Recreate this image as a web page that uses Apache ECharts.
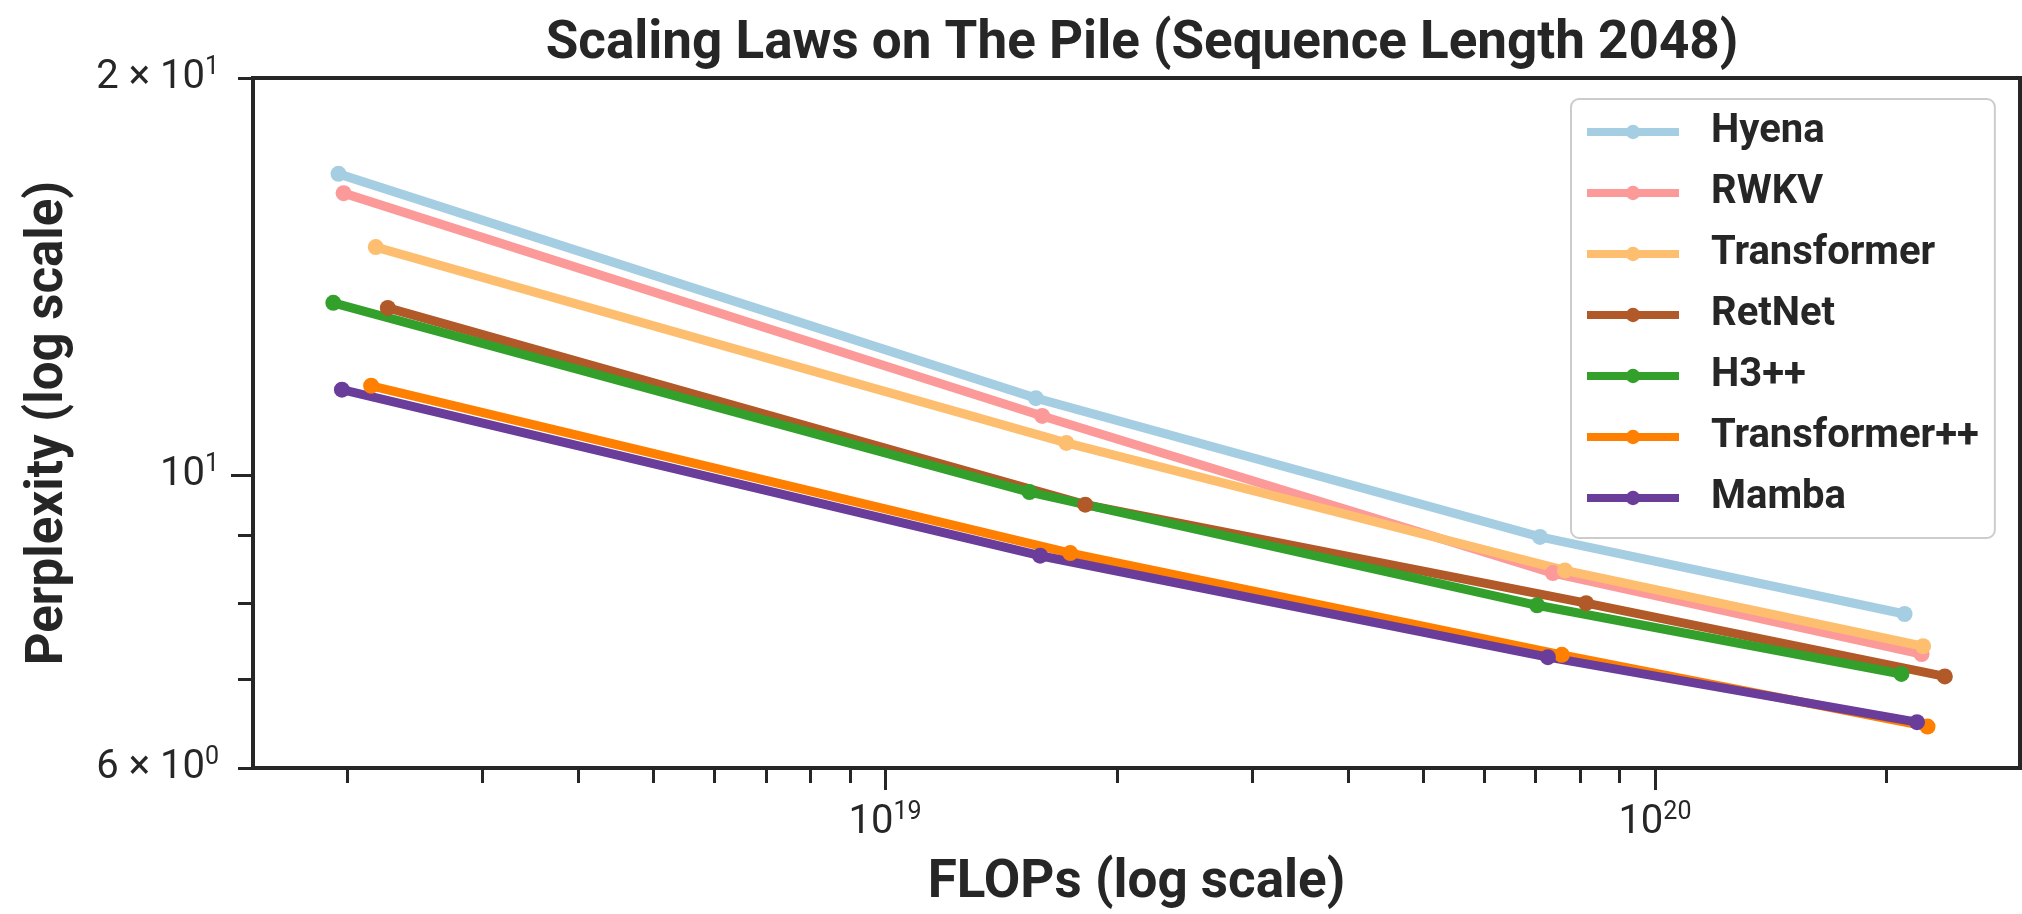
<!DOCTYPE html>
<html>
<head>
<meta charset="utf-8">
<title>Scaling Laws on The Pile</title>
<script src="https://cdn.jsdelivr.net/npm/echarts@6/dist/echarts.min.js"></script>
<style>
  html, body { margin: 0; padding: 0; background: #fff; }
  #chart { width: 2022px; height: 914px; }
</style>
</head>
<body>
<div id="chart"></div>
<script>
// values: training FLOPs and Pile perplexity per model size
const models = ['Hyena', 'RWKV', 'Transformer', 'RetNet', 'H3++', 'Transformer++', 'Mamba']
const colors = ['#a6cee3', '#fb9a99', '#fdbf6f', '#b15928', '#33a02c', '#ff7f00', '#6a3d9a']

const hyenaFlops = [1.95e18, 1.57e19, 7.09e19, 2.11e20]
const hyenaPpl = [16.92, 11.44, 8.98, 7.85]
const rwkvFlops = [1.98e18, 1.60e19, 7.37e19, 2.22e20]
const rwkvPpl = [16.36, 11.09, 8.43, 7.32]
const transformerFlops = [2.18e18, 1.72e19, 7.64e19, 2.23e20]
const transformerPpl = [14.89, 10.58, 8.47, 7.42]
const retnetFlops = [2.26e18, 1.82e19, 8.14e19, 2.38e20]
const retnetPpl = [13.39, 9.50, 8.00, 7.04]
const h3Flops = [1.92e18, 1.54e19, 7.03e19, 2.09e20]
const h3Ppl = [13.51, 9.71, 7.97, 7.07]
const transformerPPFlops = [2.15e18, 1.74e19, 7.57e19, 2.26e20]
const transformerPPPpl = [11.69, 8.73, 7.31, 6.45]
const mambaFlops = [1.97e18, 1.59e19, 7.26e19, 2.19e20]
const mambaPpl = [11.61, 8.69, 7.28, 6.50]

const flops = [hyenaFlops, rwkvFlops, transformerFlops, retnetFlops, h3Flops, transformerPPFlops, mambaFlops]
const ppl = [hyenaPpl, rwkvPpl, transformerPpl, retnetPpl, h3Ppl, transformerPPPpl, mambaPpl]

// axis ranges and ticks (log scale)
const xRange = [1.51e18, 2.98e20]
const yRange = [6, 20]
const xMajorTicks = [1e19, 1e20]
const xMinorTicks = [2e18, 3e18, 4e18, 5e18, 6e18, 7e18, 8e18, 9e18,
  2e19, 3e19, 4e19, 5e19, 6e19, 7e19, 8e19, 9e19, 2e20, 3e20]
const yMajorTicks = [10]
const yMinorTicks = [6, 7, 8, 9, 20]
const yLabelTicks = [6, 10, 20]

const ink = '#262626'
const font = 'Roboto'
const lg = Math.log10

const supRich = {
  b: { fontSize: 40, fontFamily: font, color: ink },
  s: { fontSize: 25, fontFamily: font, color: ink, padding: [0, 0, 20, 0] }
}

// 10^v -> "m × 10^e" with the exponent as a superscript
const powLabel = (v) => {
  const n = Math.round(Math.pow(10, v) * 1000) / 1000
  const exp = Math.floor(lg(n) + 1e-9)
  const mant = Math.round(n / Math.pow(10, exp))
  return mant === 1 ? `{b|10}{s|${exp}}` : `{b|${mant} × 10}{s|${exp}}`
}

const tickLine = { color: ink, width: 3 }

const chart = echarts.init(document.getElementById('chart'), null, { renderer: 'canvas' })

chart.setOption({
  animation: false,
  backgroundColor: '#ffffff',
  textStyle: { fontFamily: font, color: ink },
  title: {
    text: 'Scaling Laws on The Pile (Sequence Length 2048)',
    left: 1137,
    top: 13,
    textAlign: 'center',
    textStyle: { fontSize: 53, fontWeight: 'bold', fontFamily: font, color: ink }
  },
  grid: {
    left: 253, right: 2, top: 78, bottom: 146,
    show: true, borderColor: ink, borderWidth: 4,
    outerBoundsMode: 'none'
  },
  legend: {
    orient: 'vertical',
    left: 1571,
    top: 99,
    padding: [13, 16, 20, 12],
    itemWidth: 92,
    itemHeight: 18,
    itemGap: 21,
    borderColor: '#cccccc',
    borderWidth: 2,
    borderRadius: 8,
    backgroundColor: 'rgba(255,255,255,0.8)',
    lineStyle: { width: 8 },
    textStyle: { fontSize: 40, fontWeight: 'bold', fontFamily: font, color: ink, padding: [0, 0, 0, 27] },
    data: models
  },
  xAxis: [
    {
      type: 'value',
      min: lg(xRange[0]),
      max: lg(xRange[1]),
      position: 'bottom',
      axisLine: { show: false, onZero: false },
      splitLine: { show: false },
      axisTick: { customValues: xMajorTicks.map(lg), length: 22, lineStyle: tickLine },
      axisLabel: {
        customValues: xMajorTicks.map(lg),
        margin: 32,
        formatter: powLabel,
        rich: supRich
      },
      name: 'FLOPs (log scale)',
      nameLocation: 'middle',
      nameGap: 89,
      nameTextStyle: { fontSize: 53, fontWeight: 'bold', fontFamily: font, color: ink }
    },
    {
      type: 'value',
      min: lg(xRange[0]),
      max: lg(xRange[1]),
      position: 'bottom',
      axisLine: { show: false, onZero: false },
      splitLine: { show: false },
      axisTick: { customValues: xMinorTicks.map(lg), length: 15, lineStyle: tickLine },
      axisLabel: { show: false }
    }
  ],
  yAxis: [
    {
      type: 'value',
      min: lg(yRange[0]),
      max: lg(yRange[1]),
      position: 'left',
      axisLine: { show: false, onZero: false },
      splitLine: { show: false },
      axisTick: { customValues: yMajorTicks.map(lg), length: 22, lineStyle: tickLine },
      axisLabel: {
        customValues: yLabelTicks.map(lg),
        margin: 34,
        formatter: powLabel,
        rich: supRich
      },
      name: 'Perplexity (log scale)',
      nameLocation: 'middle',
      nameRotate: 90,
      nameGap: 178,
      nameTextStyle: { fontSize: 51, fontWeight: 'bold', fontFamily: font, color: ink }
    },
    {
      type: 'value',
      min: lg(yRange[0]),
      max: lg(yRange[1]),
      position: 'left',
      axisLine: { show: false, onZero: false },
      splitLine: { show: false },
      axisTick: { customValues: yMinorTicks.map(lg), length: 15, lineStyle: tickLine },
      axisLabel: { show: false }
    }
  ],
  series: models.map((name, i) => ({
    name,
    type: 'line',
    xAxisIndex: 0,
    yAxisIndex: 0,
    data: flops[i].map((f, j) => [lg(f), lg(ppl[i][j])]),
    symbol: 'circle',
    symbolSize: 16,
    showSymbol: true,
    lineStyle: { width: 9, color: colors[i] },
    itemStyle: { color: colors[i] },
    emphasis: { disabled: true }
  }))
})

window.addEventListener('resize', () => chart.resize())
</script>
</body>
</html>
